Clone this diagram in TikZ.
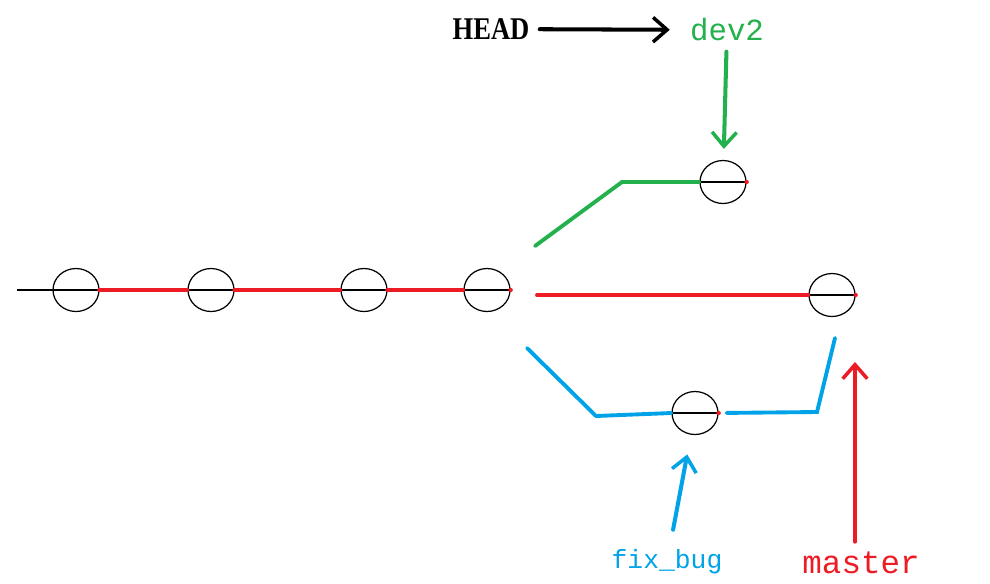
\documentclass[tikz,border=0pt]{standalone}
\usepackage{fontspec}
\setmainfont{Liberation Serif}
\setmonofont{Liberation Mono}
\usetikzlibrary{shapes.geometric,arrows.meta}
\definecolor{gitred}{RGB}{237,28,36}
\definecolor{gitgreen}{RGB}{34,177,76}
\definecolor{gitblue}{RGB}{0,162,232}
\tikzset{
  commit/.style={ellipse,draw,line width=0.7pt,minimum width=0.92cm,minimum height=0.86cm,inner sep=0pt},
  branch/.style={line width=2.2pt,line cap=round},
  pointer/.style={line width=2.3pt,line cap=round,-{Straight Barb[length=8pt,width=14pt,line width=2pt]}},
  label/.style={inner sep=0pt}
}
\begin{document}
\begin{tikzpicture}[x=0.02cm,y=-0.02cm]
  \useasboundingbox (0,0) rectangle (990,583);
  % commits
  \node[commit] (c1) at (76,290) {};
  \node[commit] (c2) at (211,290) {};
  \node[commit] (c3) at (364,290) {};
  \node[commit] (c4) at (487,290) {};
  \node[commit] (d1) at (723,182) {};
  \node[commit] (m1) at (832,295) {};
  \node[commit] (f1) at (695,413) {};
  \foreach \c in {c1,c2,c3,c4,d1,m1,f1}{
    \draw[line width=0.8pt] (\c.west) -- (\c.east);
    \fill[gitred] (\c.east) circle (2.2);
  }
  % main line
  \coordinate (tail) at (17,290);
  \draw[line width=0.8pt] (tail) -- (c1.west);
  \draw[branch,gitred] (c1.east) -- (c2.west);
  \draw[branch,gitred] (c2.east) -- (c3.west);
  \draw[branch,gitred] (c3.east) -- (c4.west);
  % branches
  \coordinate (ds) at (535,246);
  \draw[branch,gitgreen] (ds) -- (622,182) -- (d1.west);
  \coordinate (ms) at (537,295);
  \draw[branch,gitred] (ms) -- (m1.west);
  \coordinate (fs) at (527,348);
  \draw[branch,gitblue] (fs) -- (596,416) -- (f1.west);
  \coordinate (fe) at (835,338);
  \draw[branch,gitblue,shorten <=0.16cm] (f1.east) -- (817,412) -- (fe);
  % labels
  \node[label,font=\fontsize{18}{18}\selectfont\bfseries] (head) at (491,29) {\scalebox{0.84}[1]{HEAD}};
  \node[label,font=\ttfamily\fontsize{17.5}{17.5}\selectfont,text=gitgreen] (dev) at (727,30) {dev2};
  \node[label,font=\ttfamily\fontsize{15}{15}\selectfont,text=gitblue] (fix) at (667,562) {fix\_bug};
  \node[label,font=\ttfamily\fontsize{18.5}{18.5}\selectfont,text=gitred] (mas) at (861,563) {master};
  % pointers
  \draw[pointer,shorten <=0.2cm,shorten >=0.4cm] (head) -- (dev);
  \draw[pointer,gitgreen,shorten <=0.2cm,shorten >=0.22cm] (dev) -- (d1);
  \draw[pointer,gitblue,shorten <=0.4cm,shorten >=0.4cm] (fix) -- (f1);
  \coordinate (mtip) at (855,362);
  \draw[pointer,gitred,shorten <=0.2cm] (mas.north -| mtip) -- (mtip);
\end{tikzpicture}
\end{document}
